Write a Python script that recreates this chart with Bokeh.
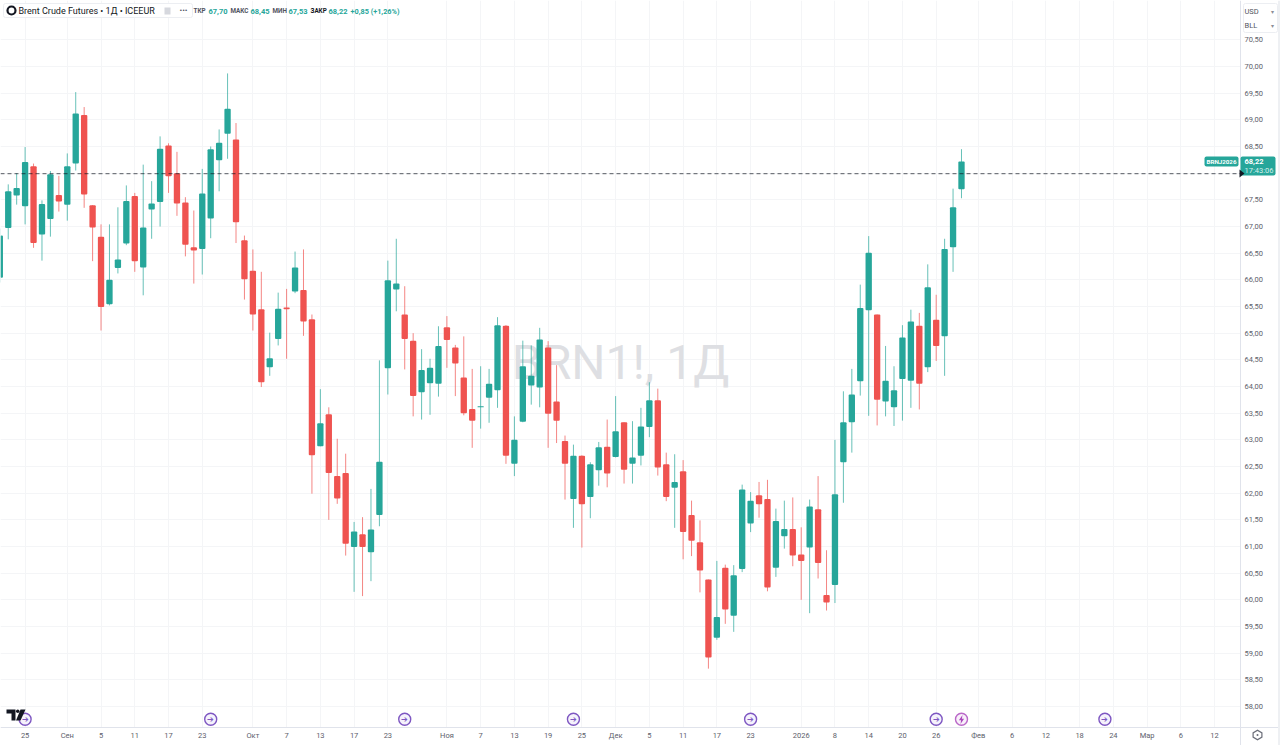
from bokeh.plotting import figure
from bokeh.embed import file_html
from bokeh.resources import INLINE
from bokeh.models import (ColumnDataSource, FixedTicker, Label, BoxAnnotation, PolyAnnotation, Span, Range1d)

open_ = [66.04,66.97,67.58,67.38,68.13,66.85,67.14,67.59,67.41,68.18,69.09,67.40,66.81,65.54,66.22,66.68,67.57,66.23,67.32,67.46,
 68.52,68.00,67.45,66.61,66.58,67.15,68.24,68.74,68.63,66.74,66.17,65.45,64.36,64.89,65.48,65.78,65.81,65.26,62.88,63.48,
 62.32,62.38,60.99,61.23,60.89,61.59,64.34,65.82,65.35,64.86,63.89,64.06,64.05,65.11,64.73,64.17,63.58,63.61,63.79,63.93,
 65.14,62.55,63.34,64.02,63.98,64.73,63.72,62.98,61.89,62.70,61.93,62.43,62.87,62.68,63.33,62.55,62.70,63.24,63.74,62.54,
 62.10,62.41,61.59,61.08,60.38,59.29,60.60,59.70,60.58,61.43,61.96,61.89,60.60,61.19,61.33,60.85,60.98,61.70,60.09,60.28,
 62.58,63.33,64.10,65.43,65.35,63.72,63.61,64.14,64.11,65.14,64.36,65.25,64.94,66.61,67.70]
close = [66.83,67.66,67.72,68.21,66.69,67.42,67.98,67.47,68.13,69.12,67.60,66.98,65.49,66.00,66.38,67.48,66.35,66.98,67.43,68.46,
 67.94,67.43,66.66,66.55,67.62,68.45,68.57,69.21,67.08,66.01,65.35,64.08,64.53,65.46,65.45,66.23,65.22,62.71,63.31,62.38,
 61.90,61.05,61.28,60.99,61.32,62.59,65.99,65.93,64.89,63.82,64.31,64.35,64.76,64.87,64.43,63.50,63.36,63.63,64.05,65.15,
 62.70,63.00,64.38,64.20,64.88,63.49,63.36,62.55,62.70,61.79,62.54,62.86,62.37,63.16,62.44,62.67,63.25,63.74,62.48,61.93,
 62.21,61.27,61.11,60.55,58.92,59.68,59.82,60.46,62.07,61.86,61.79,60.23,61.48,61.33,60.83,60.73,61.75,60.69,59.95,61.98,
 63.33,63.85,65.47,66.51,63.75,64.11,63.93,64.92,65.22,64.05,65.86,64.76,66.58,67.36,68.22]
high = [66.96,67.79,68.00,68.49,68.18,67.49,68.04,67.95,68.37,69.52,69.24,67.40,67.04,67.04,67.36,67.77,67.63,68.16,67.85,68.69,
 68.56,68.40,67.55,67.30,68.08,68.50,68.82,69.87,68.94,66.83,66.57,66.15,65.01,65.76,65.83,66.53,66.57,65.35,63.95,63.61,
 63.02,62.74,61.46,61.55,62.08,64.49,66.36,66.77,65.88,65.00,64.70,64.52,65.13,65.32,64.78,64.94,64.33,64.38,64.33,65.30,
 65.15,63.44,64.86,64.77,65.10,64.85,64.40,63.08,62.91,62.71,62.58,62.96,63.38,63.82,63.33,63.35,63.60,64.08,63.96,62.76,
 62.73,62.62,61.86,61.49,60.38,60.73,60.66,60.65,62.16,62.02,62.21,62.25,61.71,61.86,61.92,61.36,61.88,62.32,60.93,63.00,
 63.91,64.33,65.91,66.82,65.35,64.76,64.38,65.15,65.44,65.38,66.29,65.72,66.77,67.71,68.45]
low = [65.95,66.76,67.41,67.04,66.60,66.36,66.81,67.28,67.11,68.05,67.35,66.35,65.05,65.52,66.12,66.65,66.15,65.71,66.77,67.00,
 67.63,67.20,66.44,65.93,66.10,66.78,67.66,68.27,66.69,65.63,65.05,63.99,64.20,64.77,64.52,65.75,64.95,61.99,62.88,61.50,
 61.80,60.83,60.15,60.07,60.35,61.38,63.85,65.41,64.32,63.44,63.38,63.47,63.81,64.35,63.82,63.46,62.85,63.21,63.32,63.60,
 62.55,62.32,63.33,63.66,63.61,62.85,62.94,61.88,61.35,60.98,61.53,62.14,62.11,62.67,62.18,62.18,62.52,63.05,62.33,61.85,
 61.35,60.76,60.82,60.14,58.71,59.25,59.55,59.40,60.52,61.27,61.54,60.16,60.43,60.96,60.63,60.00,59.75,60.40,59.80,59.94,
 61.82,62.76,63.83,63.45,63.27,63.44,63.26,63.36,63.60,63.57,64.27,64.48,64.20,66.15,67.53]

time_tick_index = [3,8,12,16,20,24,30,34,38,42,46,53,57,61,65,69,73,77,81,85,89,95,99,103,107,111,116,120,124,128,132,136,140,144]
time_tick_label = ["25","Сен","5","11","17","23","Окт","7","13","17","23","Ноя","7","13","19","25","Дек","5","11","17","23",
                   "2026","8","14","20","26","Фев","6","12","18","24","Мар","6","12"]
price_ticks = [58.0,58.5,59.0,59.5,60.0,60.5,61.0,61.5,62.0,62.5,63.0,63.5,64.0,64.5,65.0,65.5,66.0,66.5,67.0,67.5,68.0,68.5,69.0,69.5,70.0,70.5]
price_tick_label = ["58,00","58,50","59,00","59,50","60,00","60,50","61,00","61,50","62,00","62,50","63,00","63,50","64,00",
                    "64,50","65,00","65,50","66,00","66,50","67,00","67,50","68,00","68,50","69,00","69,50","70,00","70,50"]
event_index = [3,25,48,68,89,111,131]
earnings_index = [114]
last_marker_price = 67.99

GREEN, RED = "#26a69a", "#ef5350"
FONT = "Roboto"
idx = list(range(len(close)))
colors = [GREEN if c >= o else RED for o, c in zip(open_, close)]
src = ColumnDataSource(dict(x=idx, top=[max(a, b) for a, b in zip(open_, close)],
                            bottom=[min(a, b) for a, b in zip(open_, close)],
                            high=high, low=low, color=colors))

p = figure(width=1280, height=745, output_backend="svg", toolbar_location=None,
           x_range=Range1d(0.083, 151.815), y_range=Range1d(57.2688, 71.2375),
           y_axis_location="right", min_border=0, outline_line_color=None)
p.background_fill_color = "white"
p.border_fill_color = "white"

for ax in (p.xaxis[0], p.yaxis[0]):
    ax.major_tick_line_color = None
    ax.minor_tick_line_color = None
    ax.axis_line_color = "#e0e3eb"
    ax.major_label_text_font = FONT
    ax.major_label_text_font_size = "7.5px"
    ax.major_label_text_color = "#5d606b"
    ax.major_label_standoff = 4
    ax.major_tick_in = 0
    ax.major_tick_out = 0
p.xaxis[0].ticker = FixedTicker(ticks=time_tick_index)
p.xaxis[0].major_label_overrides = dict(zip(time_tick_index, time_tick_label))
p.xaxis[0].fixed_location = 57.6063
p.yaxis[0].ticker = FixedTicker(ticks=price_ticks)
p.yaxis[0].major_label_overrides = dict(zip(price_ticks, price_tick_label))
p.yaxis[0].fixed_location = 147.08
p.xgrid[0].ticker = FixedTicker(ticks=time_tick_index)
p.ygrid[0].ticker = FixedTicker(ticks=price_ticks)
p.xgrid.grid_line_color = "#f4f5f7"
p.ygrid.grid_line_color = "#f4f5f7"

def sy(y):
    return 745 - y

def box(x0, y0, x1, y1, fill, line=None, radius=0, lw=1, level="overlay"):
    p.add_layout(BoxAnnotation(left=x0, right=x1, top=sy(y0), bottom=sy(y1),
                               left_units="screen", right_units="screen", top_units="screen", bottom_units="screen",
                               fill_color=fill, fill_alpha=1, line_color=line, line_alpha=1 if line else 0, line_width=lw,
                               border_radius=radius, level=level, editable=False))

def text(x, y, s, size, color, align="left", bold=False, level="overlay", base="middle", font=FONT):
    p.add_layout(Label(x=x, y=sy(y), x_units="screen", y_units="screen", text=s, text_font_size=f"{size}px",
                       text_color=color, text_align=align, text_baseline=base, text_font=font,
                       text_font_style="bold" if bold else "normal", level=level))

def poly(pts, color):
    p.add_layout(PolyAnnotation(xs=[a for a, _ in pts], ys=[sy(b) for _, b in pts], xs_units="screen", ys_units="screen",
                                fill_color=color, fill_alpha=1, line_color=color, line_alpha=0, level="overlay", editable=False))

# white panes under the axes hide the grid there
box(1240, 0, 1280, 745, "white", level="glyph")
box(0, 727, 1280, 745, "white", level="glyph")

text(620, 362, "BRN1!, 1Д", 48, "#dedfe3", align="center", level="underlay")

p.segment("x", "high", "x", "low", source=src, line_color="color", line_alpha=0.7, line_width=1)
p.vbar("x", 0.75, "top", "bottom", source=src, fill_color="color", line_color="color", line_width=0, border_radius=1)

p.add_layout(Span(location=last_marker_price, dimension="width", line_color="#131722", line_width=1, line_alpha=0.7,
                  line_dash=[4, 3], level="overlay"))
box(1240, 160, 1280, 180, "white")

ev_y = [57.76] * len(event_index)
p.scatter(event_index, ev_y, size=12, marker="circle", fill_color="#f5f2fc", line_color="#7e57c2", line_width=1.4)
p.text(event_index, ev_y, text=["➔"] * len(event_index), text_font_size="7.5px", text_color="#7e57c2",
       text_align="center", text_baseline="middle", text_font="DejaVu Sans")
ey = [57.76] * len(earnings_index)
p.scatter(earnings_index, ey, size=12, marker="circle", fill_color="#f8f0fa", line_color="#ba68c8", line_width=1.4)
poly([(962, 714.5), (958.4, 719.8), (960.6, 719.8), (960, 723.5), (963.6, 718.2), (961.4, 718.2)], "#ab47bc")

# header
box(3, 3, 192, 17, "white", "#eceef2", 2)
box(7, 6, 15, 14, "white", "#131722", 4, 2.2)
text(18, 10.5, "Brent Crude Futures • 1Д • ICEEUR", 9, "#131722")
box(164, 7, 170, 14, "#d6d8de")
text(183, 10, "•••", 8, "#50535e", align="center")
for x, s, c, z in [(193, "ТКР", "#50535e", 6.3), (208, "67,70", GREEN, 7.5), (230, "МАКС", "#50535e", 6.3), (250, "68,45", GREEN, 7.5),
                   (272, "МИН", "#50535e", 6.3), (288, "67,53", GREEN, 7.5), (310, "ЗАКР", "#131722", 6.3), (328, "68,22", GREEN, 7.5),
                   (350, "+0,85 (+1,26%)", GREEN, 7.3)]:
    text(x, 10.5, s, z, c, bold=True)

# right side
box(1277.5, 0, 1280, 745, "#eef0f3")
box(1239.5, 727, 1240.5, 745, "#e0e3eb")
box(1243, 3, 1277, 32, "white", "#eceef2", 2)
text(1244, 11, "USD", 7.5, "#50535e")
text(1244, 25, "BLL", 7.5, "#50535e")
text(1270, 11, "▾", 6, "#8a8d96")
text(1270, 25, "▾", 6, "#8a8d96")
box(1204, 156, 1238, 166, GREEN, None, 2)
text(1206, 161.5, "BRNJ2026", 6.2, "white", bold=True)
box(1240, 156, 1275, 175, GREEN, None, 2)
text(1244, 161, "68,22", 7.5, "white", bold=True)
text(1244, 170, "17:43:06", 7.5, "#d6f0ed")
poly([(1239, 169), (1244, 173), (1239, 177)], "#131722")

# TradingView logo
poly([(6, 709), (15, 709), (15, 720), (11, 720), (11, 713), (6, 713)], "#131722")
poly([(20, 709), (25, 709), (20, 720), (15.5, 720)], "#131722")
box(15.5, 709, 19, 712.5, "#131722", None, 2)

# settings icon
poly([(1257, 729), (1262, 732), (1262, 737), (1257, 740), (1252, 737), (1252, 732)], "#6a6d78")
poly([(1257, 730.5), (1260.8, 732.7), (1260.8, 736.3), (1257, 738.5), (1253.2, 736.3), (1253.2, 732.7)], "white")
box(1256, 733.5, 1258, 735.5, "#6a6d78", None, 1)

open("out.html", "w").write(file_html(p, INLINE))
